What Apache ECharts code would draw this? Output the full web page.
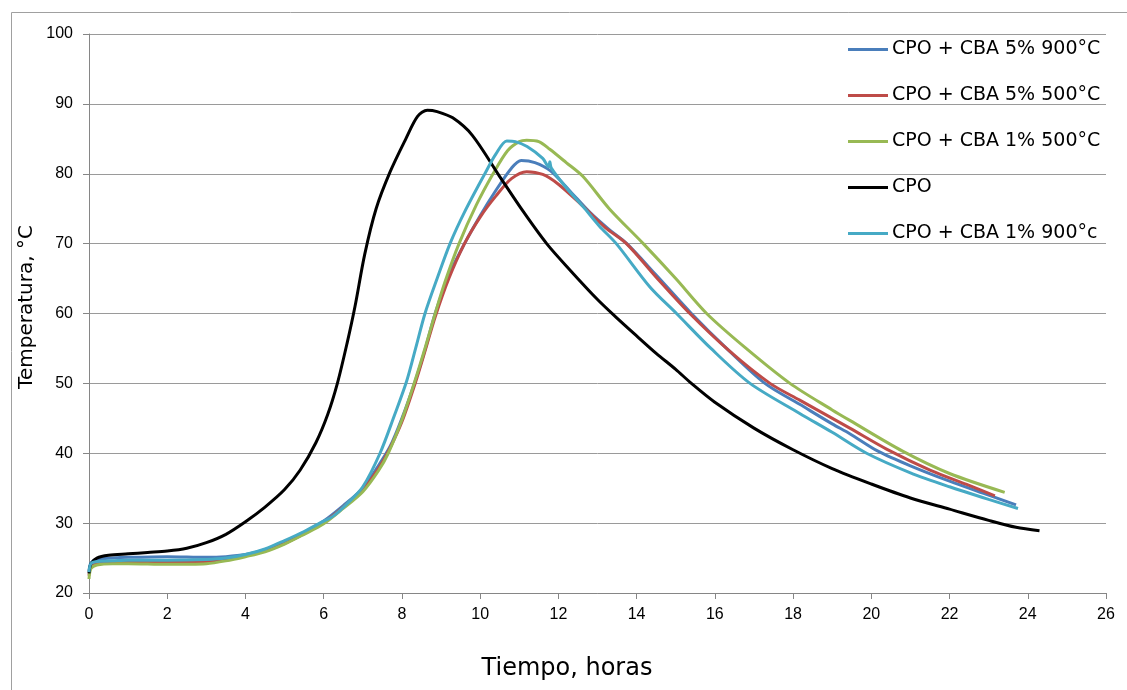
<!DOCTYPE html>
<html>
<head>
<meta charset="utf-8">
<script src="https://cdn.jsdelivr.net/npm/echarts@6/dist/echarts.min.js"></script>
<style>
html,body{margin:0;padding:0;background:#fff;}
#chart{width:1127px;height:690px;}
</style>
</head>
<body>
<div id="chart"></div>
<script>
// ---- data (time in hours, temperature in °C) ----
const seriesNames = ["CPO + CBA 5% 900°C", "CPO + CBA 5% 500°C", "CPO + CBA 1% 500°C", "CPO", "CPO + CBA 1% 900°c"];
const xTicks = [0,2,4,6,8,10,12,14,16,18,20,22,24,26];
const yTicks = [20,30,40,50,60,70,80,90,100];

const cba5_900 = [[0,23.2],[0.05,24.3],[0.2,24.8],[0.6,25.0],[1,25.1],[2,25.2],[3,25.1],[3.5,25.2],[4,25.5],[4.5,26.2],[5,27.3],[5.5,28.7],[6,30.3],[6.5,32.5],[7,35],[7.35,37.8],[7.7,41],[8,45],[8.35,50.5],[8.6,55],[8.85,60],[9.2,65.5],[9.6,70],[10,74],[10.4,77.6],[10.8,80.8],[11.05,81.9],[11.4,81.6],[11.8,80.4],[12.3,77.5],[12.8,74.5],[13.3,72],[13.75,70],[14.5,65.5],[15.4,60],[16.3,55],[17.28,50],[18.17,47],[19,44.2],[19.45,42.8],[20.17,40.3],[21,38.2],[22,36],[23,34],[23.7,32.6]];
const cba5_500 = [[0,22.5],[0.05,23.8],[0.2,24.3],[0.6,24.5],[1,24.5],[2,24.4],[3,24.5],[3.5,24.8],[4,25.3],[4.5,26],[5,27.1],[5.5,28.5],[6,30.1],[6.5,32.3],[7,34.8],[7.4,37.8],[7.7,40.8],[8,44.5],[8.35,50.2],[8.6,54.8],[8.85,59.5],[9.2,65],[9.6,70],[10,73.8],[10.4,76.8],[10.8,79.3],[11.19,80.3],[11.6,79.9],[12,78.5],[12.6,75.5],[13.2,72.3],[13.74,70],[14.5,65.2],[15.36,60],[16.4,54.5],[17.41,50],[18.17,47.6],[19.45,43.6],[20.39,40.6],[21.5,37.6],[22.5,35.4],[23.16,33.9]];
const cba1_500 = [[0,22],[0.05,23.5],[0.2,24.0],[0.6,24.2],[1,24.2],[2,24.1],[3,24.2],[3.5,24.6],[4,25.2],[4.5,25.9],[5,27],[5.5,28.4],[6,29.9],[6.5,32.1],[7,34.5],[7.4,37.5],[7.65,40],[8,44.8],[8.33,50.3],[8.6,55.2],[8.85,60],[9.1,64.5],[9.46,70],[9.9,75.5],[10.33,80],[10.7,83.3],[11.0,84.6],[11.19,84.8],[11.5,84.6],[11.78,83.5],[12.2,81.6],[12.63,79.6],[13.3,75],[14.17,70],[15,65],[15.79,60],[16.8,55],[17.92,50],[19,46.2],[19.45,44.7],[20.8,40.3],[22,37.1],[23.41,34.4]];
const cpo = [[0,22.8],[0.05,24.2],[0.2,25.0],[0.5,25.4],[1,25.6],[1.5,25.8],[2,26.0],[2.5,26.4],[3,27.2],[3.5,28.4],[4,30.2],[4.5,32.3],[5,34.8],[5.4,37.6],[5.8,41.5],[6.1,45.5],[6.35,50],[6.6,55.8],[6.8,61],[7.05,68.5],[7.34,75],[7.7,80.3],[8.1,85],[8.4,88.2],[8.65,89.1],[8.9,88.9],[9.3,88],[9.8,85.5],[10.5,79.6],[11.1,74.6],[11.7,70],[12.3,66.2],[13,62],[13.45,59.6],[14,56.8],[14.5,54.3],[15,52.0],[15.4,50],[16,47.3],[17,43.6],[18,40.5],[19,37.8],[20,35.6],[21,33.6],[22,32],[23,30.4],[23.7,29.4],[24.3,28.9]];
const cba1_900 = [[0,23],[0.05,24.2],[0.2,24.5],[0.6,24.6],[1,24.7],[2,24.7],[3,24.8],[3.5,25],[4,25.5],[4.5,26.3],[5,27.5],[5.5,28.8],[5.9,30],[6.24,31],[6.6,32.8],[7,35.2],[7.44,40],[7.8,45.3],[8.12,50.3],[8.35,55],[8.59,60],[8.9,65],[9.23,70],[9.6,74.5],[10.12,80],[10.4,82.8],[10.68,84.7],[10.9,84.6],[11.2,83.9],[11.6,82.2],[11.75,81],[11.78,81.7],[11.82,80.8],[12.2,78],[12.63,75.3],[13.05,72.5],[13.48,70],[14.34,63.8],[15.02,60],[15.9,55],[16.9,50],[18.17,45.7],[19.0,43],[19.88,40],[21,37.2],[22,35.2],[23,33.4],[23.75,32.1]];

const seriesData = [cba5_900, cba5_500, cba1_500, cpo, cba1_900];
const colors = ["#4a7ebb", "#be4b48", "#98b954", "#000000", "#46aac5"];

const FONT = "Liberation Sans";
const chart = echarts.init(document.getElementById('chart'), null, {renderer: 'canvas'});
chart.setOption({
  animation: false,
  backgroundColor: '#ffffff',
  grid: {left: 89, right: 21, top: 34, bottom: 97, containLabel: false},
  legend: {
    orient: 'vertical',
    left: 843, top: 35,
    itemWidth: 40, itemHeight: 3, itemGap: 27,
    icon: 'rect',
    data: seriesNames,
    textStyle: {fontFamily: 'DejaVu Sans', fontSize: 19, color: '#000', padding: [0,0,0,-1]}
  },
  xAxis: {
    type: 'value', min: 0, max: 26, interval: 2,
    axisLine: {show: true, onZero: false, lineStyle: {color: '#868686', width: 1}},
    axisTick: {show: true, length: 6, lineStyle: {color: '#868686'}},
    axisLabel: {margin: 14, fontFamily: FONT, fontSize: 16, color: '#000',
      formatter: v => xTicks.includes(v) ? String(v) : ''},
    splitLine: {show: false}
  },
  yAxis: {
    type: 'value', min: 20, max: 100, interval: 10,
    axisLine: {show: true, onZero: false, lineStyle: {color: '#868686', width: 1}},
    axisTick: {show: true, length: 6, lineStyle: {color: '#868686'}},
    axisLabel: {margin: 16, fontFamily: FONT, fontSize: 16, color: '#000',
      formatter: v => yTicks.includes(v) ? String(v) : ''},
    splitLine: {show: true, lineStyle: {color: '#9a9a9a', width: 1}}
  },
  graphic: [
    {type: 'rect', left: 9, top: 10, shape: {width: 1130, height: 678}, style: {fill: 'none', stroke: '#a0a0a0', lineWidth: 1}, silent: true, z: -1},
    {type: 'text', x: 567, y: 669, style: {text: 'Tiempo, horas', font: '24px "DejaVu Sans"', fill: '#000', textAlign: 'center', textVerticalAlign: 'middle'}},
    {type: 'text', x: 27, y: 307, rotation: Math.PI/2, style: {text: 'Temperatura, °C', font: '20px "DejaVu Sans"', fill: '#000', textAlign: 'center', textVerticalAlign: 'middle'}}
  ],
  series: seriesData.map((d, i) => ({
    name: seriesNames[i], type: 'line', data: d,
    showSymbol: false, symbol: 'none',
    smooth: 0.3,
    lineStyle: {color: colors[i], width: 3},
    itemStyle: {color: colors[i]}
  }))
});
</script>
</body>
</html>
